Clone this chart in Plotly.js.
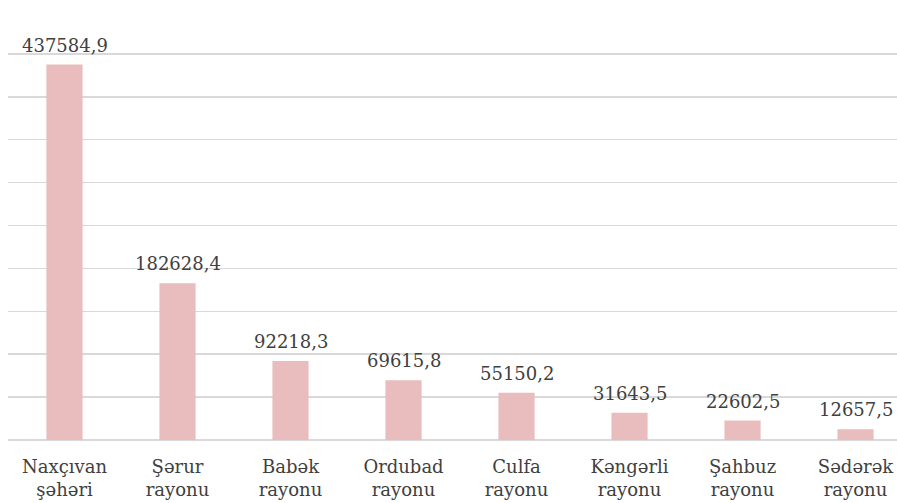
<!DOCTYPE html>
<html>
<head>
<meta charset="utf-8">
<script src="https://cdn.plot.ly/plotly-3.0.1.min.js"></script>
<style>html,body{margin:0;padding:0;overflow:hidden;background:#fff;}</style>
</head>
<body>
<div id="chart" style="width:897px;height:503px;"></div>
<script>
const categories = ["Naxçıvan<br>şəhəri", "Şərur<br>rayonu", "Babək<br>rayonu", "Ordubad<br>rayonu", "Culfa<br>rayonu", "Kəngərli<br>rayonu", "Şahbuz<br>rayonu", "Sədərək<br>rayonu"];
const values = [437584.9, 182628.4, 92218.3, 69615.8, 55150.2, 31643.5, 22602.5, 12657.5];
const valueLabels = values.map(v => v.toFixed(1).replace('.', ','));

const font = {family: "'DejaVu Serif', serif", size: 18, color: "#404040"};

const trace = {
  type: "bar",
  x: categories.map((c, i) => i),
  y: values,
  width: 0.32,
  marker: {color: "#e9bdbd", line: {width: 0}},
  hoverinfo: "none"
};

const annotations = values.map((v, i) => ({
  x: i, y: v, xref: "x", yref: "y",
  text: valueLabels[i], showarrow: false,
  yanchor: "bottom", yshift: 7,
  font: font
}));

const layout = {
  width: 897, height: 503,
  margin: {l: 8, r: 0, t: 11, b: 63},
  paper_bgcolor: "#fff", plot_bgcolor: "#fff",
  showlegend: false,
  font: font,
  xaxis: {
    tickmode: "array",
    tickvals: categories.map((c, i) => i),
    ticktext: categories,
    range: [-0.5, 7.367],
    showgrid: false, zeroline: false, showline: false,
    ticks: "", tickfont: font, ticklabelstandoff: 14
  },
  yaxis: {
    range: [0, 500000], dtick: 50000,
    showgrid: true, gridcolor: "#d9d9d9", gridwidth: 1.5,
    zeroline: true, zerolinecolor: "#d9d9d9", zerolinewidth: 1.5,
    showticklabels: false, showline: false, ticks: ""
  },
  annotations: annotations
};

Plotly.newPlot("chart", [trace], layout, {displayModeBar: false, staticPlot: true});
</script>
</body>
</html>
